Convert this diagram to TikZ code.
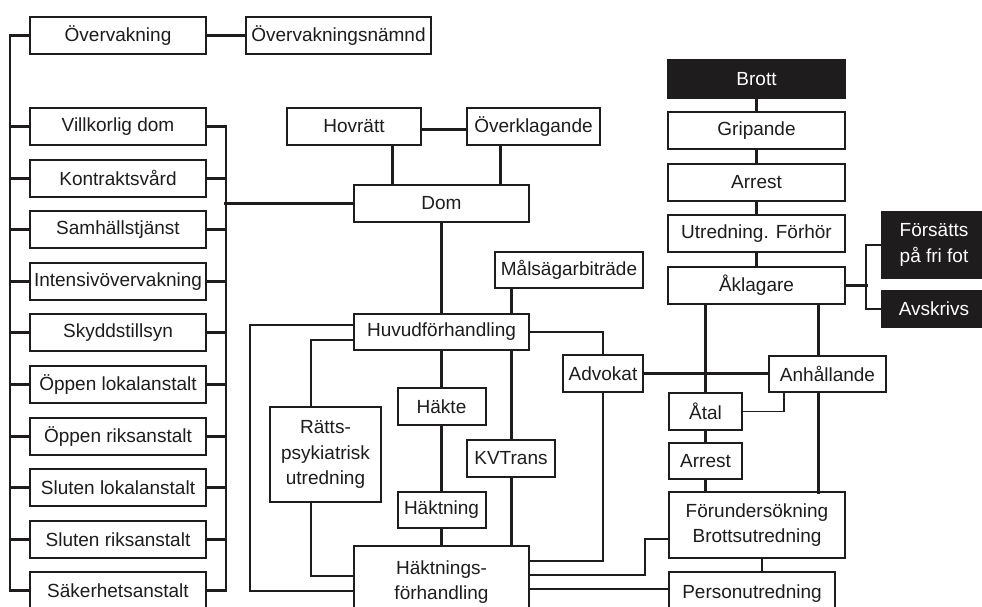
\documentclass[tikz,border=0pt]{standalone}
\usepackage{fontspec}
\setmainfont{Liberation Sans}

\definecolor{ink}{HTML}{1E1C1D}

\tikzset{
  box/.style = {draw=ink, line width=2pt, fill=white, text=ink, inner sep=0pt,
    minimum height=37pt, align=center, font=\fontsize{19}{25.5}\selectfont},
  col/.style = {box, minimum width=176pt},
  darkbox/.style = {box, fill=ink, text=white},
  light/.style = {draw=ink, line width=1.8pt},
  mid/.style = {draw=ink, line width=2.4pt},
  heavy/.style = {draw=ink, line width=3pt},
}

\begin{document}
\begin{tikzpicture}[x=1pt, y=-1pt, node distance=51.6pt]
	\useasboundingbox (0,0) rectangle (982,606);
	\clip (0,0) rectangle (982,606);
	% vänster kolumn
	\node[col] (ov) at (118,35.5) {Övervakning};
	\node[box, minimum width=185pt] (ovn) at (338.5,35.5) {Övervakningsnämnd};
	\node[col] (vd) at (118,126.5) {Villkorlig dom};
	\node[col] (kv) [below of=vd] {Kontraktsvård};
	\node[col] (sh) [below of=kv] {Samhällstjänst};
	\node[col] (iv) [below of=sh] {Intensivövervakning};
	\node[col] (sk) [below of=iv] {Skyddstillsyn};
	\node[col] (ol) [below of=sk] {Öppen lokalanstalt};
	\node[col] (or) [below of=ol] {Öppen riksanstalt};
	\node[col] (sl) [below of=or] {Sluten lokalanstalt};
	\node[col] (sr) [below of=sl] {Sluten riksanstalt};
	\node[col] (sa) [below of=sr] {Säkerhetsanstalt};
	% mitten
	\node[box, minimum width=134pt] (hov) at (354,126.5) {Hovrätt};
	\node[box, minimum width=133pt] (ovk) at (533.5,126.5) {Överklagande};
	\node[box, minimum width=175pt] (dom) at (441.5,203.5) {Dom};
	\node[box, minimum width=148pt, minimum height=36pt] (msb) at (569,269.5) {Målsägarbiträde};
	\node[box, minimum width=175pt, minimum height=36pt] (hf) at (441.5,332) {Huvudförhandling};
	\node[box, minimum width=88pt] (hak) at (441.5,406.5) {Häkte};
	\node[box, minimum width=88pt] (kvt) at (511,458.5) {KVTrans};
	\node[box, minimum width=88pt, minimum height=36pt] (hkn) at (441.5,510) {Häktning};
	\node[box, minimum width=111pt, minimum height=95pt] (rpu) at (325.5,454.5) {Rätts-\\psykiatrisk\\utredning};
	\node[box, minimum width=80pt] (adv) at (603,373.5) {Advokat};
	\node[box, minimum width=175pt, minimum height=72pt] (hkf) at (441.5,582) {Häktnings-\\förhandling};
	% höger kolumn
	\node[darkbox, minimum width=177pt, minimum height=38pt] (brott) at (756.5,79) {Brott};
	\node[box, minimum width=177pt] (grip) [below of=brott] {Gripande};
	\node[box, minimum width=177pt] (arr) [below of=grip] {Arrest};
	\node[box, minimum width=177pt] (utf) [below of=arr] {Utredning. Förhör};
	\node[box, minimum width=177pt] (akl) [below of=utf] {Åklagare};
	\node[darkbox, minimum width=104pt, minimum height=66pt] (fff) at (934,245) {Försätts\\på fri fot};
	\node[darkbox, minimum width=104pt, minimum height=36pt] (avs) at (934,309) {Avskrivs};
	\node[box, minimum width=117pt, minimum height=36pt] (anh) at (827.5,373.5) {Anhållande};
	\node[box, minimum width=73pt] (atal) at (705.5,411.5) {Åtal};
	\node[box, minimum width=73pt, minimum height=36pt] (arr2) at (705.5,461) {Arrest};
	\node[box, minimum width=176pt, minimum height=66pt] (fu) at (757,525) {Förundersökning\\Brottsutredning};
	\node[box, minimum width=166pt, minimum height=44pt] (pu) at (752,594) {Personutredning};
	% påföljder
	\draw[mid] (ov.west) -- ++(-19,0) |- (sa.west);
	\draw[light] (ov.west) -- ++(-19,0);
	\path[heavy]
		(vd.west) edge ++(-19,0) (kv.west) edge ++(-19,0)
		(sh.west) edge ++(-19,0) (iv.west) edge ++(-19,0)
		(sk.west) edge ++(-19,0) (ol.west) edge ++(-19,0)
		(or.west) edge ++(-19,0) (sl.west) edge ++(-19,0)
		(sr.west) edge ++(-19,0) (sa.west) edge ++(-19,0);
	\draw[mid] (vd.east) -- ++(19,0) |- (sa.east);
	\draw[light] (vd.east) -- ++(19,0);
	\path[heavy]
		(kv.east) edge ++(19,0) (sh.east) edge ++(19,0)
		(iv.east) edge ++(19,0) (sk.east) edge ++(19,0)
		(ol.east) edge ++(19,0) (or.east) edge ++(19,0)
		(sl.east) edge ++(19,0) (sr.east) edge ++(19,0)
		(sa.east) edge ++(19,0) (dom.west) edge ++(-129,0);
	% raka kopplingar
	\path[heavy]
		(ov) edge (ovn) (dom) edge (hf)
		(hf) edge (hak) (hak) edge (hkn)
		(hkn) edge (hkf) (adv) edge (anh)
		(brott) edge (grip) (grip) edge (arr)
		(arr) edge (utf) (utf) edge (akl)
		(atal) edge (arr2);
	\draw[heavy] ([yshift=-2.5pt]hov.east) -- ([yshift=-2.5pt]ovk.west);
	\draw[heavy] ([xshift=38pt]hov.south) -- ++(0,40);
	\draw[heavy] ([xshift=-33.5pt]ovk.south) -- ++(0,40);
	\draw[heavy] (kvt |- msb.south) -- (kvt |- hf.north);
	\draw[heavy] (kvt |- hf.south) -- (kvt.north);
	\draw[heavy] (kvt.south) -- (kvt |- hkf.north);
	% rättegång
	\draw[light] ([yshift=7pt]hf.west) -- ++(-103,0) |- ([yshift=-9pt]hkf.west);
	\draw[light] ([yshift=-8pt]hf.west) -| ([xshift=-14.5pt]rpu.north);
	\draw[light] ([xshift=-14.5pt]rpu.south) |- ([yshift=6pt]hkf.west);
	\draw[light] (hf.east) -| (adv.north);
	\draw[light] (adv.south) |- ([yshift=21pt]hkf.east);
	\draw[light] ([yshift=7pt]hkf.east) -- ++(115,0) |- ([yshift=-14pt]fu.west);
	\draw[mid] ([yshift=-7pt]hkf.east) -- ++(140,0);
	% åklagare
	\draw[heavy] (akl.east) -- ++(22,0);
	\draw[light] (fff.west) -- ++(-15,0) |- (avs.west);
	\draw[heavy] (atal |- akl.south) -- (atal.north);
	\draw[heavy] (arr2.south) -- (arr2 |- fu.north);
	\draw[heavy] ([xshift=-9.5pt]anh.north) -- ++(0,-52);
	\draw[heavy] ([xshift=-9.5pt]anh.south) -- ++(0,101);
	\draw[light] ([xshift=-43.5pt]anh.south) |- (atal.east);
	\draw[light] ([xshift=5pt]fu.south) -- ++(0,14);
\end{tikzpicture}
\end{document}
